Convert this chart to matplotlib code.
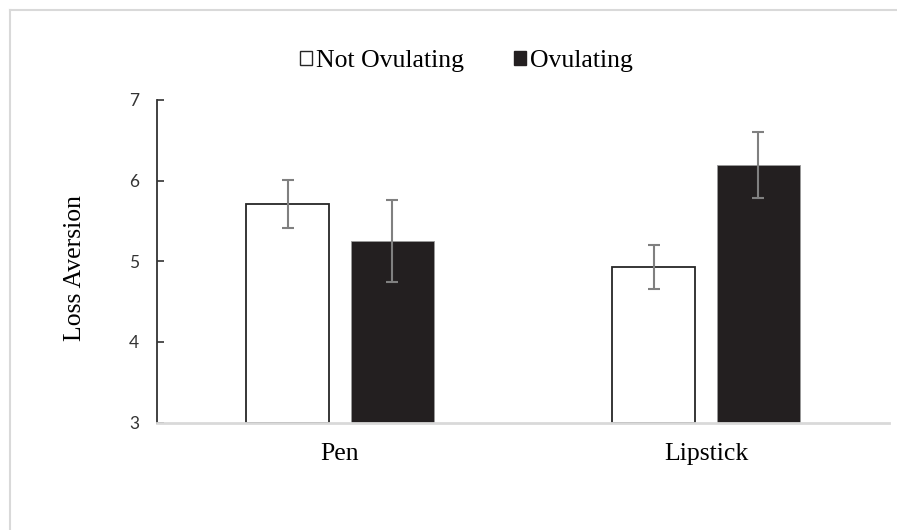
#!/usr/bin/env python

import matplotlib
matplotlib.use("Agg")
import matplotlib.pyplot as plt
from matplotlib.lines import Line2D
from matplotlib.patches import Patch
import numpy as np

categories = ["Pen", "Lipstick"]
not_ovulating = [5.71, 4.93]
not_ovulating_err = [0.30, 0.27]
ovulating = [5.25, 6.19]
ovulating_err = [0.51, 0.41]
yticks = [3, 4, 5, 6, 7]

serif = "Liberation Serif"
sans = "Lato"

fig = plt.figure(figsize=(8.97, 5.30), dpi=100)
# light gray frame of the chart area (only top and left edges are visible)
fx, fy = 9.5 / 897, 1 - 9.5 / 530
fig.add_artist(Line2D([fx, 1.01], [fy, fy], transform=fig.transFigure, color="#d9d9d9", lw=1.5))
fig.add_artist(Line2D([fx, fx], [fy, -0.01], transform=fig.transFigure, color="#d9d9d9", lw=1.5))

ax = fig.add_axes([157 / 897, 1 - 422.5 / 530, (889 - 157) / 897, (422.5 - 100) / 530])

x = np.arange(len(categories)) + 0.5
w = 0.226
off = 0.143
ecfg = dict(ecolor="#808080", elinewidth=1.5, capsize=4.5, capthick=1.5)

ax.bar(x - off, np.array(not_ovulating) - 3, w, bottom=3, color="white",
       edgecolor="#262626", lw=1.3, yerr=not_ovulating_err, error_kw=ecfg)
ax.bar(x + off, np.array(ovulating) - 3, w, bottom=3, color="#231f20",
       edgecolor="#9a9a9a", lw=0.6, yerr=ovulating_err, error_kw=ecfg)

ax.set_xlim(0, 2)
ax.set_ylim(3, 7)
ax.set_yticks(yticks)
ax.set_xticks(x)
ax.set_xticklabels(categories, fontfamily=serif, fontsize=18.5)
for t in ax.get_yticklabels():
    t.set_fontfamily(sans)
    t.set_fontsize(12.5)
    t.set_color("#333333")

ax.tick_params(axis="x", length=0, pad=15)
ax.tick_params(axis="y", direction="in", length=5, width=1.2, color="#333333", pad=13)

for s in ["top", "right"]:
    ax.spines[s].set_visible(False)
ax.spines["left"].set_color("#333333")
ax.spines["left"].set_linewidth(1.3)
ax.spines["bottom"].set_color("#d9d9d9")
ax.spines["bottom"].set_linewidth(2)

ax.set_ylabel("Loss Aversion", fontfamily=serif, fontsize=18.5)
ax.yaxis.set_label_coords(-0.097, 0.48)

handles = [Patch(facecolor="white", edgecolor="#262626", lw=1.0),
           Patch(facecolor="#231f20", edgecolor="#231f20")]
fig.legend(handles, ["Not Ovulating", "Ovulating"], loc="center",
           bbox_to_anchor=(466 / 897, 1 - 61 / 530), ncol=2, frameon=False,
           prop={"family": serif, "size": 18.5}, handlelength=0.5, handleheight=0.5,
           handletextpad=0.12, columnspacing=1.95)

fig.savefig("out.png", dpi=100)
